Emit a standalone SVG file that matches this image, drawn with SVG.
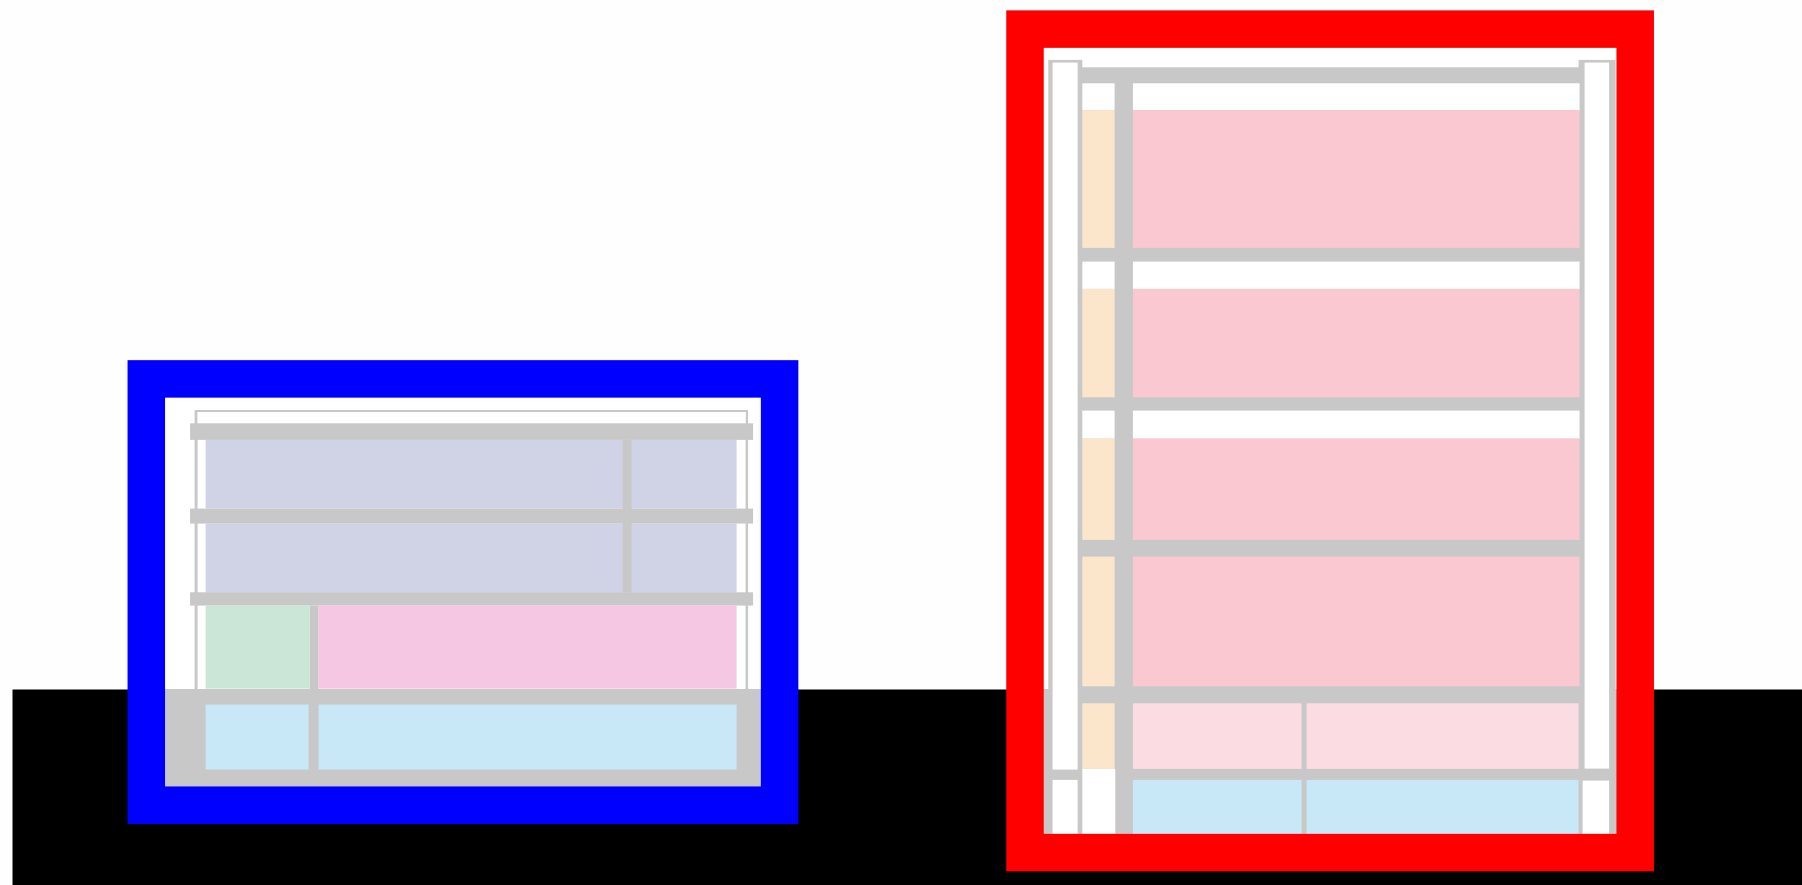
<svg xmlns="http://www.w3.org/2000/svg" width="1802" height="885" viewBox="0 0 1802 885">
<defs>
<filter id="soft" filterUnits="userSpaceOnUse" x="-20" y="-20" width="1842" height="925" color-interpolation-filters="sRGB"><feGaussianBlur stdDeviation="0.6"/></filter>
</defs>
<style>
.g{fill:#c8c8c8}.w{fill:#fff}.lav{fill:#d0d3e6}.grn{fill:#cbe6d6}.pnk{fill:#f6c7e2}.sky{fill:#c8e8f8}.org{fill:#fbe6cb}.ros{fill:#f9c8d0}.lro{fill:#fadce2}
.frame{fill:none;stroke-width:37.5}
</style>
<rect width="1802" height="885" fill="#fefefe"/>
<g filter="url(#soft)">
<rect id="ground" x="12.500" y="689.500" width="1810" height="216" fill="#000"/>
<g transform="translate(0.6 0.6)">
<g id="building-left">
<rect class="w" x="160" y="393" width="605" height="296"/>
<rect class="g" x="160" y="688.500" width="605" height="101"/>
<path class="g" d="M194 409.500H747.500V689H745V411.500H197V689H194Z"/>
<rect class="w" x="197" y="411.500" width="548" height="11"/>
<rect class="lav" x="205" y="439" width="531" height="69"/>
<rect class="lav" x="205" y="523" width="531" height="69"/>
<rect class="g" x="622" y="439" width="9" height="153"/>
<rect class="g" x="189.500" y="422.700" width="563" height="16.600"/>
<rect class="g" x="189.500" y="508" width="563" height="15"/>
<rect class="g" x="189.500" y="591.700" width="563" height="13.300"/>
<rect class="g" x="309" y="605" width="9" height="84"/>
<rect class="grn" x="205" y="605" width="104" height="83"/>
<rect class="pnk" x="318" y="605" width="418" height="83"/>
<rect class="sky" x="205" y="704" width="103" height="65"/>
<rect class="sky" x="318" y="704" width="418" height="65"/>
</g>
<g id="building-right">
<rect class="w" x="1040" y="44" width="580" height="645"/>
<rect class="g" x="1040" y="688.500" width="580" height="150"/>
<rect class="g" x="1047.700" y="59.300" width="34" height="630"/>
<rect class="w" x="1052" y="62" width="25" height="707"/>
<rect class="w" x="1052" y="779.300" width="25" height="58"/>
<rect class="g" x="1578" y="59.300" width="37" height="630"/>
<rect class="w" x="1584" y="62" width="24.500" height="706"/>
<rect class="w" x="1582" y="780" width="26.500" height="58"/>
<rect class="g" x="1081" y="66.700" width="499" height="770"/>
<rect class="w" x="1081.700" y="82.700" width="32.300" height="26.800"/>
<rect class="w" x="1132.300" y="82.700" width="446.700" height="26.800"/>
<rect class="org" x="1081.700" y="109.500" width="32.300" height="137.800"/>
<rect class="ros" x="1132.300" y="109.500" width="446.700" height="137.800"/>
<rect class="w" x="1081.700" y="261" width="32.300" height="27.300"/>
<rect class="w" x="1132.300" y="261" width="446.700" height="27.300"/>
<rect class="org" x="1081.700" y="288.300" width="32.300" height="108.400"/>
<rect class="ros" x="1132.300" y="288.300" width="446.700" height="108.400"/>
<rect class="w" x="1081.700" y="410" width="32.300" height="28"/>
<rect class="w" x="1132.300" y="410" width="446.700" height="28"/>
<rect class="org" x="1081.700" y="438" width="32.300" height="101.300"/>
<rect class="ros" x="1132.300" y="438" width="446.700" height="101.300"/>
<rect class="org" x="1081.700" y="556" width="32.300" height="129.700"/>
<rect class="ros" x="1132.300" y="556" width="446.700" height="129.700"/>
<rect class="org" x="1081.700" y="702.700" width="32.300" height="65.600"/>
<rect class="lro" x="1132.300" y="702.700" width="168.700" height="65.600"/>
<rect class="lro" x="1306" y="702.700" width="272" height="65.600"/>
<rect class="w" x="1081.700" y="768.300" width="33" height="69"/>
<rect class="sky" x="1132.300" y="779.300" width="168.700" height="58"/>
<rect class="sky" x="1306" y="779.300" width="272" height="58"/>
</g>
<g id="frames">
<rect id="frame-blue" class="frame" stroke="#0000ff" x="145.700" y="378.300" width="633.300" height="426.300"/>
<rect id="frame-red" class="frame" stroke="#ff0000" x="1024.400" y="28.500" width="610.200" height="823.500"/>
</g>
</g>
</g>
</svg>
